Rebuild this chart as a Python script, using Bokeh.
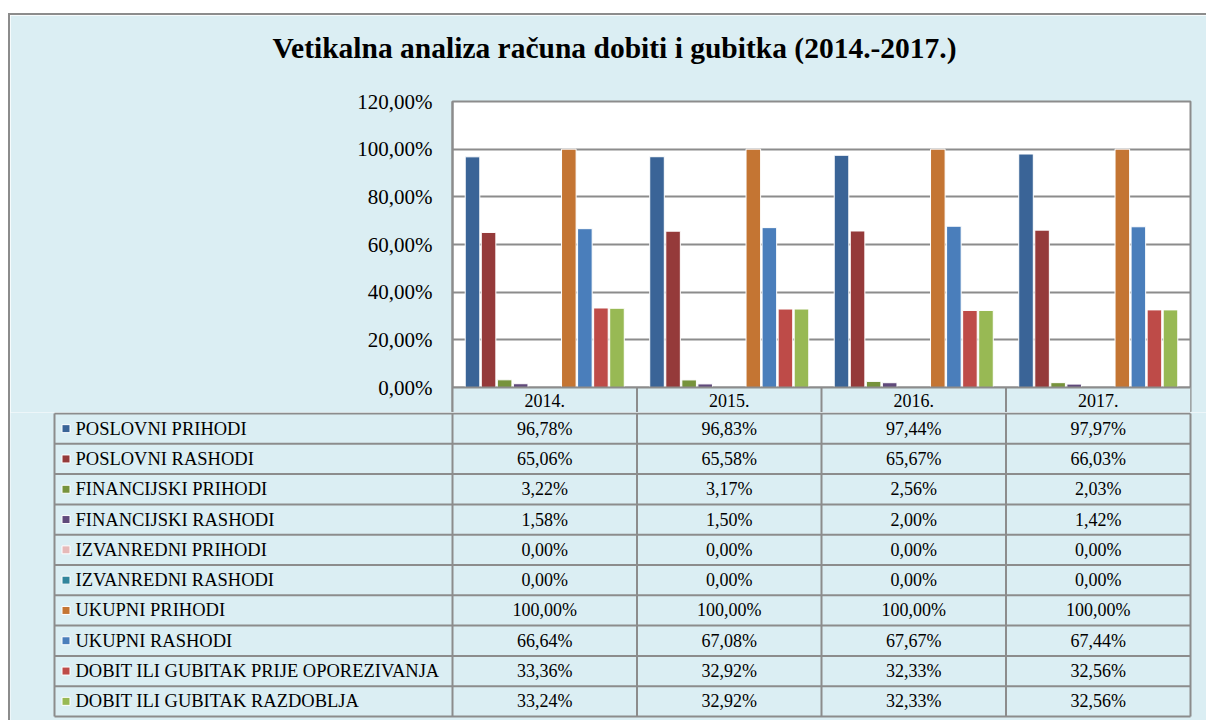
from bokeh.plotting import figure
from bokeh.models import FactorRange, Range1d, FixedTicker, ColumnDataSource, BoxAnnotation, Title
from bokeh.transform import dodge
from bokeh.layouts import column
from bokeh.core.properties import value
from bokeh.embed import file_html
from bokeh.resources import INLINE

# ---------------- data ----------------
title_text = "Vetikalna analiza računa dobiti i gubitka (2014.-2017.)"
years = ["2014.", "2015.", "2016.", "2017."]
series_names = [
    "POSLOVNI PRIHODI",
    "POSLOVNI RASHODI",
    "FINANCIJSKI PRIHODI",
    "FINANCIJSKI RASHODI",
    "IZVANREDNI PRIHODI",
    "IZVANREDNI RASHODI",
    "UKUPNI PRIHODI",
    "UKUPNI RASHODI",
    "DOBIT ILI GUBITAK PRIJE OPOREZIVANJA",
    "DOBIT ILI GUBITAK RAZDOBLJA",
]
poslovni_prihodi = [96.78, 96.83, 97.44, 97.97]
poslovni_rashodi = [65.06, 65.58, 65.67, 66.03]
financijski_prihodi = [3.22, 3.17, 2.56, 2.03]
financijski_rashodi = [1.58, 1.50, 2.00, 1.42]
izvanredni_prihodi = [0.00, 0.00, 0.00, 0.00]
izvanredni_rashodi = [0.00, 0.00, 0.00, 0.00]
ukupni_prihodi = [100.00, 100.00, 100.00, 100.00]
ukupni_rashodi = [66.64, 67.08, 67.67, 67.44]
dobit_prije_oporezivanja = [33.36, 32.92, 32.33, 32.56]
dobit_razdoblja = [33.24, 32.92, 32.33, 32.56]
series_values = [
    poslovni_prihodi, poslovni_rashodi, financijski_prihodi, financijski_rashodi,
    izvanredni_prihodi, izvanredni_rashodi, ukupni_prihodi, ukupni_rashodi,
    dobit_prije_oporezivanja, dobit_razdoblja,
]
y_ticks = [0, 20, 40, 60, 80, 100, 120]
y_tick_labels = ["0,00%", "20,00%", "40,00%", "60,00%", "80,00%", "100,00%", "120,00%"]

# ---------------- style ----------------
colors = ["#3A6497", "#953A3A", "#77933C", "#604A7B", "#E6B9B8",
          "#31859C", "#C47533", "#4A7EBB", "#BE4B48", "#98B954"]
BG = "#DBEEF3"
LINE = "#8C8C8C"
FONT = "Liberation Serif"

# layout geometry (page pixels)
FIG_W = 1196
PAGE_X0, PAGE_Y0 = 10, 15
FRAME_L, FRAME_R, FRAME_T, ZERO_Y, HEAD_B = 452, 1190, 101, 387, 412
TITLE_X = 272
ky = (ZERO_Y - FRAME_T) / 120.0        # px per percent
kx = (FRAME_R - FRAME_L) / len(years)  # px per category
figA_h = HEAD_B - PAGE_Y0

# ---------------- chart figure ----------------
figA = figure(width=FIG_W, height=figA_h,
              x_range=FactorRange(factors=years, range_padding=0),
              y_range=Range1d(-(HEAD_B - ZERO_Y) / ky, 120),
              output_backend="svg", toolbar_location=None, title=None,
              min_border_left=FRAME_L - PAGE_X0, min_border_right=PAGE_X0 + FIG_W - FRAME_R,
              min_border_top=FRAME_T - PAGE_Y0, min_border_bottom=0,
              background_fill_color="white", border_fill_color=BG)
figA.frame_align = False

# blank spacer title (closest to the frame), then the real title above it
figA.add_layout(Title(text=" ", text_font=FONT, text_font_size="28px",
                      standoff=0, text_color=BG), "above")
figA.add_layout(Title(text=title_text, align="left", offset=TITLE_X - FRAME_L, standoff=10,
                      text_font=FONT, text_font_size="29.5px", text_font_style="bold",
                      text_color="black"), "above")

figA.xaxis.visible = False
figA.xgrid.grid_line_color = None
ticker = FixedTicker(ticks=y_ticks)
figA.yaxis.ticker = ticker
figA.ygrid.ticker = ticker
figA.yaxis.major_label_overrides = {t: l for t, l in zip(y_ticks, y_tick_labels)}
figA.yaxis.major_label_text_font = FONT
figA.yaxis.major_label_text_font_size = "21px"
figA.yaxis.major_label_text_color = "black"
figA.yaxis.major_tick_out = 0
figA.yaxis.major_tick_in = 0
figA.yaxis.minor_tick_line_color = None
figA.yaxis.major_label_standoff = 20
figA.yaxis.axis_line_color = LINE
figA.yaxis.axis_line_width = 2
figA.ygrid.grid_line_color = LINE
figA.ygrid.grid_line_width = 2
figA.outline_line_color = LINE
figA.outline_line_width = 2

figA.add_layout(BoxAnnotation(top=0, fill_color=BG, fill_alpha=1, line_alpha=0, level="underlay"))

src = ColumnDataSource({"year": years, **{f"s{i}": v for i, v in enumerate(series_values)}})
n = len(series_names)
step = 0.087
for i in range(n):
    figA.vbar(x=dodge("year", (i - (n - 1) / 2) * step, range=figA.x_range),
              top=f"s{i}", width=0.079, source=src,
              fill_color=colors[i], line_color="white", line_width=1)

# header row of the table
figA.segment(x0=[0], y0=[0], x1=[len(years)], y1=[0], line_color=LINE, line_width=2)
bounds = list(range(1, len(years)))
figA.segment(x0=bounds, y0=[0] * len(bounds), x1=bounds,
             y1=[-(HEAD_B - ZERO_Y) / ky] * len(bounds), line_color=LINE, line_width=2)
figA.text(x=years, y=[-(HEAD_B - ZERO_Y) / ky / 2] * len(years), text=years,
          text_align="center", text_baseline="middle",
          text_font=value(FONT), text_font_size="18px", text_color="black")

# ---------------- table figure ----------------
FIGB_T, TAB_T, TAB_B, FIGB_B = HEAD_B, 413, 716, 720
TAB_L = 54
ry = (TAB_B - TAB_T) / n
figB = figure(width=FIG_W, height=FIGB_B - FIGB_T,
              x_range=Range1d((PAGE_X0 - FRAME_L) / kx, (PAGE_X0 + FIG_W - FRAME_L) / kx),
              y_range=Range1d(-(FIGB_B - TAB_T) / ry, (TAB_T - FIGB_T) / ry),
              output_backend="svg", toolbar_location=None,
              x_axis_location=None, y_axis_location=None,
              min_border_left=0, min_border_right=0, min_border_top=0, min_border_bottom=0,
              background_fill_color=BG, border_fill_color=BG)
figB.frame_align = False
figB.outline_line_color = None
figB.grid.visible = False

xl = (TAB_L - FRAME_L) / kx
rows = list(range(n + 1))
figB.segment(x0=[xl] * len(rows), y0=[-r for r in rows], x1=[len(years)] * len(rows),
             y1=[-r for r in rows], line_color=LINE, line_width=2)
vx = [xl] + list(range(len(years) + 1))
figB.segment(x0=vx, y0=[0] * len(vx), x1=vx, y1=[-n] * len(vx), line_color=LINE, line_width=2)

row_y = [-(i + 0.5) for i in range(n)]
figB.scatter(x=[(65.5 - FRAME_L) / kx] * n, y=row_y, marker="square", size=8,
             fill_color=colors, line_color="white", line_width=1)
figB.text(x=[(75 - FRAME_L) / kx] * n, y=row_y, text=series_names,
          text_align="left", text_baseline="middle",
          text_font=value(FONT), text_font_size="18.5px", text_color="black")

cx, cy, ct = [], [], []
for i, vals in enumerate(series_values):
    for j, v in enumerate(vals):
        cx.append(j + 0.5)
        cy.append(row_y[i])
        ct.append(f"{v:.2f}".replace(".", ",") + "%")
figB.text(x=cx, y=cy, text=ct, text_align="center", text_baseline="middle",
          text_font=value(FONT), text_font_size="18px", text_color="black")

layout = column(figA, figB, spacing=0,
                styles={"border-top": f"2px solid {LINE}", "border-left": f"2px solid {LINE}",
                        "margin-top": "13px", "margin-left": "8px"})

open("out.html", "w").write(file_html(layout, INLINE))
